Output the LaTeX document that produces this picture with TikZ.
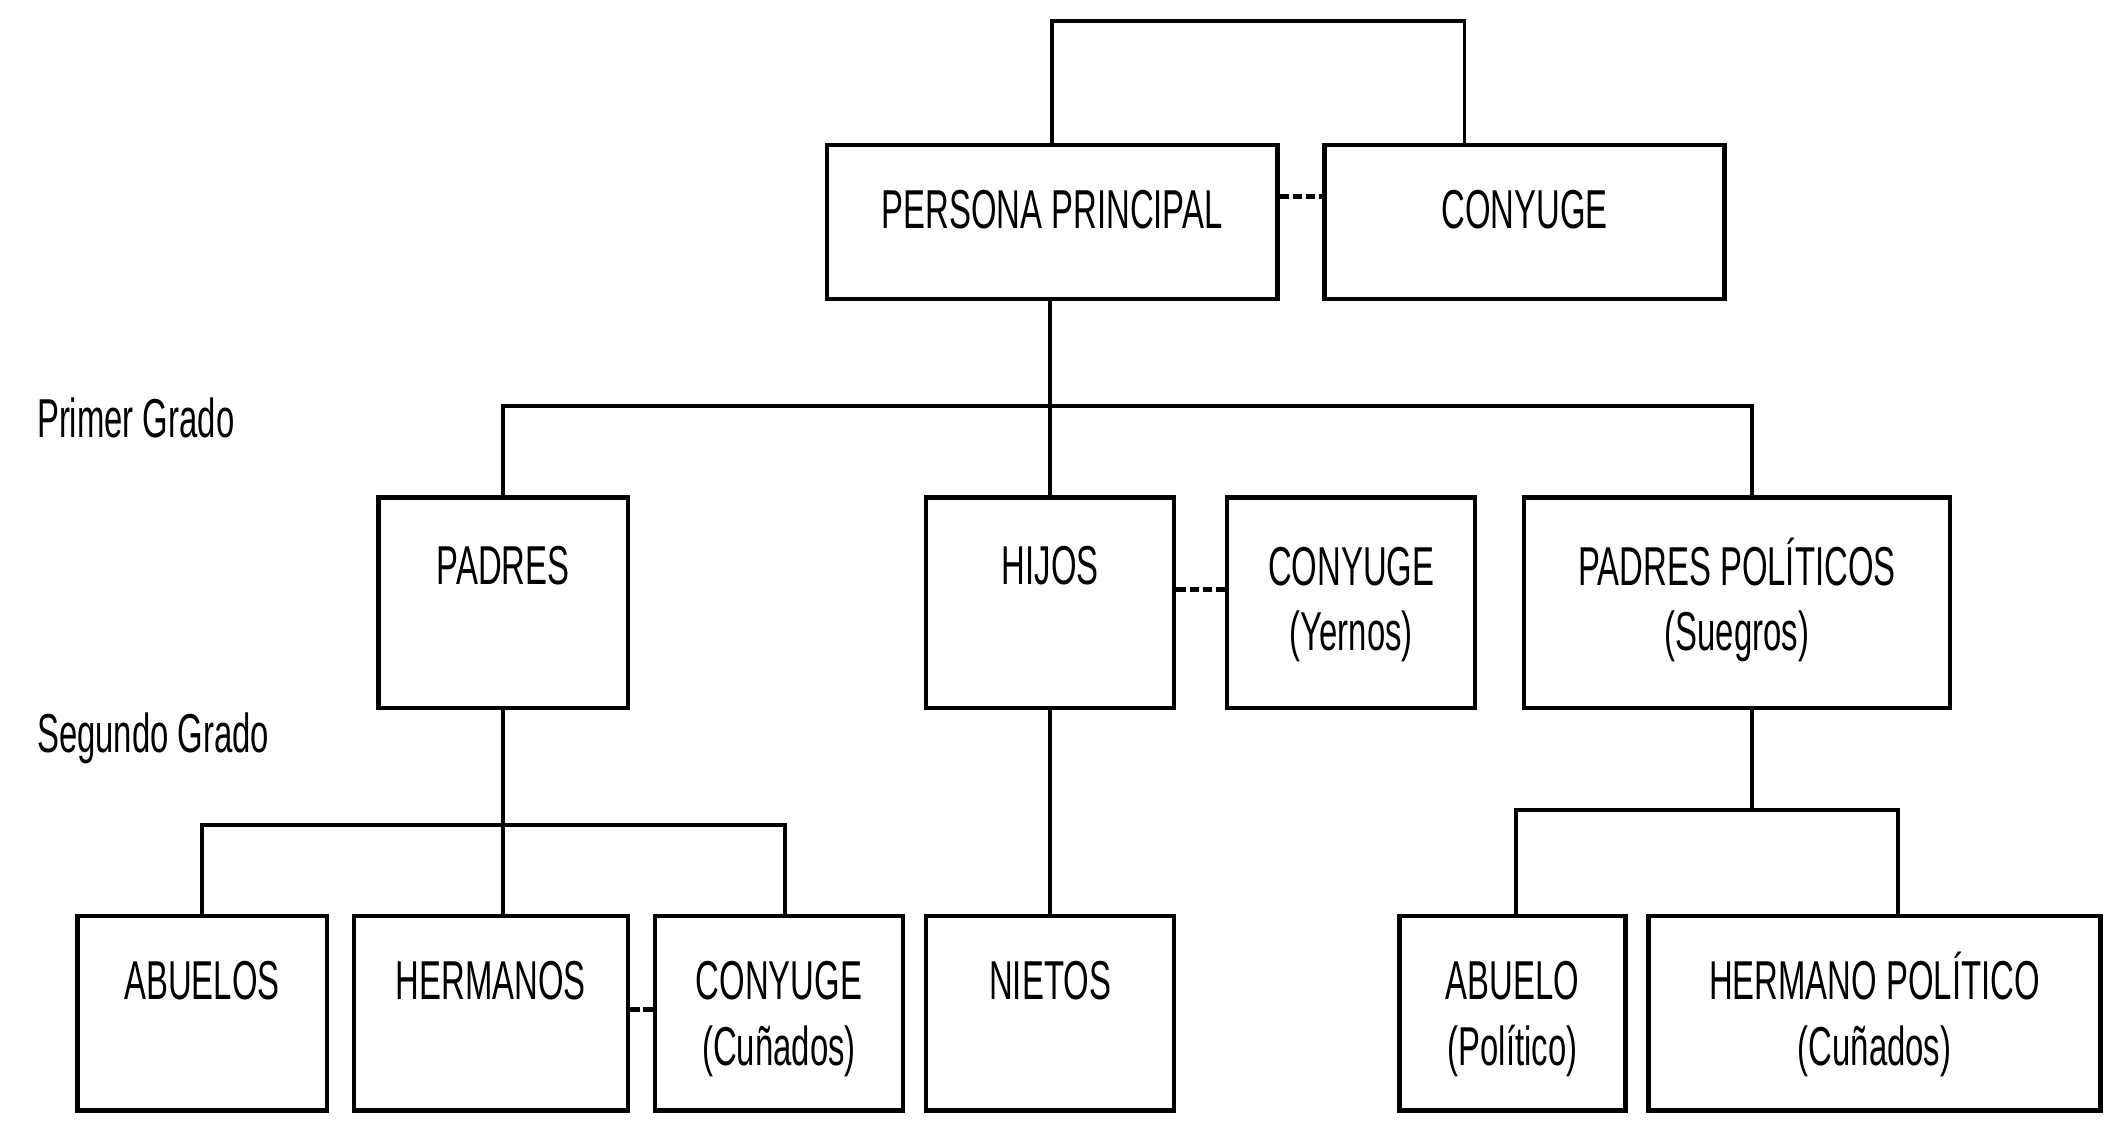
\documentclass[tikz,border=0pt]{standalone}
\usepackage{fontspec}
\setmainfont{Liberation Sans}[FakeStretch=0.6]
\usetikzlibrary{calc,fit}
\tikzset{
	box/.style={draw, line width=1.9pt, inner sep=0pt},
	link/.style={line width=1.5pt},
	tie/.style={line width=2.2pt, dash pattern=on 4pt off 1.5pt},
	txt/.style={anchor=base, align=center, inner sep=0pt,
			font=\fontsize{23}{27.5}\selectfont}
}

\begin{document}
\begin{tikzpicture}[x=0.02cm, y=-0.02cm]
	\path[fill=white] (0,0) rectangle (1568,827.5);
	\useasboundingbox (0,0) rectangle (1568,827.5);
	% Boxes
	\node[box, fit={(610,107) (942,220.5)}] (pp) {};
	\node[box, fit={(977,107) (1272,220.5)}] (cony) {};
	\node[box, fit={(279,367) (463,522)}] (padres) {};
	\node[box, fit={(683,367) (866,522)}] (hijos) {};
	\node[box, fit={(905,367) (1088,522)}] (yernos) {};
	\node[box, fit={(1124,367) (1438,522)}] (suegros) {};
	\node[box, fit={(57,675.5) (241,819)}] (abuelos) {};
	\node[box, fit={(261,675.5) (463,819)}] (hermanos) {};
	\node[box, fit={(483,675.5) (666,819)}] (cunados) {};
	\node[box, fit={(683,675.5) (866,819)}] (nietos) {};
	\node[box, fit={(1032,675.5) (1199,819)}] (abuelopol) {};
	\node[box, fit={(1216,675.5) (1549,819)}] (hermanopol) {};
	% Texts (two lines: base is on the second line)
	\node[txt] (pp-t) at ($(pp.north)+(0,63)$) {PERSONA PRINCIPAL};
	\node[txt] (cony-t) at ($(cony.north)+(0,63)$) {CONYUGE};
	\node[txt] (padres-t) at ($(padres.north)+(0,66)$) {PADRES};
	\node[txt] (hijos-t) at ($(hijos.north)+(0,66)$) {HIJOS};
	\node[txt] (yernos-t) at ($(yernos.north)+(0,114.5)$) {CONYUGE\\(Yernos)};
	\node[txt] (suegros-t) at ($(suegros.north)+(0,114.5)$) {PADRES POLÍTICOS\\(Suegros)};
	\node[txt] (abuelos-t) at ($(abuelos.north)+(0,63.5)$) {ABUELOS};
	\node[txt] (hermanos-t) at ($(hermanos.north)+(0,63.5)$) {HERMANOS};
	\node[txt] (cunados-t) at ($(cunados.north)+(0,112)$) {CONYUGE\\(Cuñados)};
	\node[txt] (nietos-t) at ($(nietos.north)+(0,63.5)$) {NIETOS};
	\node[txt] (abuelopol-t) at ($(abuelopol.north)+(0,112)$) {ABUELO\\(Político)};
	\node[txt] (hermanopol-t) at ($(hermanopol.north)+(0,112)$) {HERMANO POLÍTICO\\(Cuñados)};
	% Degrees
	\node[txt, anchor=base west] (grado1) at (27,323) {Primer Grado};
	\node[txt, anchor=base west] (grado2) at (27,555) {Segundo Grado};
	% Connectors
	\coordinate (lvl1) at (0,299.6);
	\coordinate (lvl2a) at (0,608.5);
	\coordinate (lvl2b) at (0,597.5);
	\coordinate (cy) at ($(cony.north)+(-44.5,0)$);
	\coordinate (sg) at ($(suegros.north)+(11,0)$);
	\coordinate (cu) at ($(cunados.north)+(4.5,0)$);
	\coordinate (ap) at ($(abuelopol.north)+(2.5,0)$);
	\coordinate (hp) at ($(hermanopol.north)+(17.5,0)$);
	\draw[link] (pp.north) -- ++(0,-90) -| (cy);
	\draw[link] (pp.south -| hijos.north) -- (hijos.north);
	\draw[link] (padres.north) |- (sg |- lvl1) -- (sg);
	\draw[link] (padres.south) -- (hermanos.north -| padres.south);
	\draw[link] (abuelos.north) |- (cu |- lvl2a) -- (cu);
	\draw[link] (hijos.south) -- (nietos.north);
	\draw[link] (suegros.south -| sg) -- (sg |- lvl2b);
	\draw[link] (ap) |- (hp |- lvl2b) -- (hp);
	% Spouses
	\draw[tie] ($(pp.east)+(0,-19)$) -- ($(cony.west)+(0,-19)$);
	\draw[tie] ($(hijos.east)+(0,-9.5)$) -- ($(yernos.west)+(0,-9.5)$);
	\draw[tie] ($(hermanos.east)+(0,-3)$) -- ($(cunados.west)+(0,-3)$);
\end{tikzpicture}
\end{document}
